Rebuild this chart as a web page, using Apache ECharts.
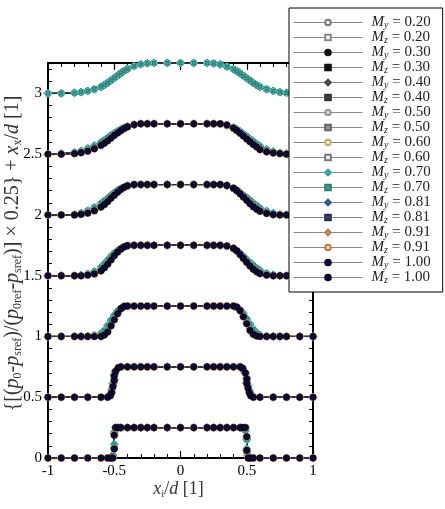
<!DOCTYPE html>
<html>
<head>
<meta charset="utf-8">
<script src="https://cdn.jsdelivr.net/npm/echarts@6/dist/echarts.min.js"></script>
<style>
  html, body { margin: 0; padding: 0; background: #fff; }
  #chart { width: 445px; height: 509px; }
</style>
</head>
<body>
<div id="chart"></div>
<script>
// row offsets x_x/d
var offsets = [0, 0.5, 1, 1.5, 2, 2.5, 3];
var machs = ['0.20', '0.30', '0.40', '0.50', '0.60', '0.70', '0.81', '0.91', '1.00'];

// sample positions x_i/d (rows 0 and 0.5 use the fine grid near the edges)
var xSharp = [-1, -0.9, -0.8, -0.7, -0.6, -0.55, -0.53, -0.52, -0.51, -0.5, -0.5, -0.49, -0.47, -0.45, -0.4, -0.35, -0.3, -0.25, -0.2, -0.1,
  0, 0.1, 0.2, 0.25, 0.3, 0.35, 0.4, 0.45, 0.47, 0.49, 0.5, 0.5, 0.51, 0.52, 0.53, 0.55, 0.6, 0.7, 0.8, 0.9, 1];
var xWide = [-1, -0.9, -0.8, -0.75, -0.7, -0.65, -0.6, -0.575, -0.55, -0.525, -0.5, -0.475, -0.45, -0.425, -0.4, -0.35, -0.3, -0.25, -0.2, -0.1,
  0, 0.1, 0.2, 0.25, 0.3, 0.35, 0.4, 0.425, 0.45, 0.475, 0.5, 0.525, 0.55, 0.575, 0.6, 0.65, 0.7, 0.75, 0.8, 0.9, 1];

// normalised pressure (p0-psref)/(p0ref-psref), one list per row
// low Mach (0.20 - 0.50)
var pLow = [
  [0,0,0,0,0,0,0,0,0.05,0.35,0.8, 1,1,1,1,1,1,1,1,1,1,1,1,1,1,1,1,1,1,1, 0.65,0.2,0.03,0,0,0,0,0,0,0,0],
  [0,0,0,0,0,0,0.07,0.2,0.4,0.58,0.72,0.86,0.96, 1,1,1,1,1,1,1,1,1,1,1,1,1,1,1, 0.93,0.8,0.62,0.48,0.33,0.18,0.07,0,0,0,0,0,0],
  [0,0,0,0,0,0,0.03,0.09,0.21,0.4,0.58,0.76,0.9,0.98, 1,1,1,1,1,1,1,1,1,1,1,1,1, 0.96,0.84,0.66,0.46,0.26,0.12,0.04,0.01,0,0,0,0,0,0],
  [0,0,0,0,0.03,0.08,0.19,0.29,0.41,0.54,0.67,0.78,0.87,0.94,0.98, 1,1,1,1,1,1,1,1,1,1, 0.97,0.88,0.8,0.69,0.57,0.45,0.34,0.24,0.16,0.09,0.03,0,0,0,0,0],
  [0,0,0,0.03,0.08,0.16,0.28,0.36,0.46,0.56,0.66,0.75,0.83,0.9,0.95,0.99, 1,1,1,1,1,1,1,1,1, 0.96,0.86,0.78,0.69,0.59,0.49,0.39,0.3,0.22,0.15,0.07,0.02,0,0,0,0],
  [0,0,0.03,0.06,0.12,0.2,0.3,0.37,0.45,0.54,0.62,0.7,0.77,0.84,0.89,0.96, 1,1,1,1,1,1,1,1,1, 0.94,0.85,0.77,0.68,0.6,0.5,0.42,0.33,0.26,0.18,0.1,0.05,0.02,0,0,0],
  [0,0,0.02,0.04,0.08,0.13,0.21,0.27,0.34,0.42,0.5,0.58,0.66,0.74,0.8,0.9,0.96,0.99, 1,1,1,1,1, 0.99,0.96,0.89,0.8,0.74,0.66,0.58,0.5,0.42,0.34,0.27,0.21,0.13,0.08,0.04,0.02,0,0]
];
// Mach 0.60 - 0.70
var pMid = [
  [0,0,0,0,0,0,0,0.02,0.1,0.45,0.85, 1,1,1,1,1,1,1,1,1,1,1,1,1,1,1,1,1, 0.97,0.9,0.6,0.3,0.08,0.02,0,0,0,0,0,0,0],
  [0,0,0,0,0,0.02,0.1,0.25,0.45,0.6,0.75,0.88,0.95, 1,1,1,1,1,1,1,1,1,1,1,1,1,1, 0.98,0.9,0.78,0.65,0.5,0.38,0.22,0.1,0.02,0,0,0,0,0],
  [0,0,0,0,0.01,0.04,0.1,0.2,0.36,0.54,0.7,0.84,0.93,0.98, 1,1,1,1,1,1,1,1,1,1,1,1, 0.99,0.96,0.88,0.75,0.58,0.4,0.24,0.12,0.05,0.01,0,0,0,0,0],
  [0,0,0,0.02,0.06,0.14,0.28,0.39,0.51,0.63,0.74,0.83,0.9,0.95,0.98,1, 1,1,1,1,1,1,1,1, 0.99,0.97,0.9,0.83,0.74,0.64,0.53,0.43,0.34,0.25,0.17,0.08,0.03,0,0,0,0],
  [0,0,0.02,0.06,0.14,0.25,0.38,0.46,0.55,0.64,0.73,0.81,0.87,0.92,0.96,0.99, 1,1,1,1,1,1,1,1, 0.99,0.96,0.88,0.82,0.74,0.65,0.57,0.48,0.39,0.31,0.23,0.13,0.06,0.02,0,0,0],
  [0,0.02,0.06,0.11,0.19,0.28,0.39,0.46,0.54,0.62,0.69,0.76,0.82,0.87,0.92,0.97,1, 1,1,1,1,1,1,1, 0.99,0.95,0.88,0.82,0.75,0.67,0.59,0.5,0.42,0.34,0.27,0.16,0.09,0.04,0.02,0,0],
  [0,0,0.02,0.04,0.08,0.14,0.22,0.28,0.35,0.43,0.51,0.59,0.67,0.74,0.81,0.9,0.96,0.99, 1,1,1,1,1, 0.98,0.95,0.88,0.79,0.73,0.66,0.58,0.5,0.43,0.35,0.28,0.22,0.14,0.08,0.04,0.02,0,0]
];
// Mach 0.81 - 1.00 (no row at x_x/d = 3)
var pHigh = [
  [0,0,0,0,0,0,0,0,0,0.3,0.75, 1,1,1,1,1,1,1,1,1,1,1,1,1,1,1,1,1,1,1, 0.7,0.25,0,0,0,0,0,0,0,0,0],
  [0,0,0,0,0,0,0.05,0.15,0.35,0.55,0.7,0.85,0.97, 1,1,1,1,1,1,1,1,1,1,1,1,1,1,1, 0.95,0.8,0.6,0.45,0.3,0.15,0.05,0,0,0,0,0,0],
  [0,0,0,0,0,0,0,0.05,0.15,0.35,0.55,0.75,0.92,0.99, 1,1,1,1,1,1,1,1,1,1,1,1,1, 0.97,0.85,0.65,0.42,0.2,0.07,0.02,0,0,0,0,0,0,0],
  [0,0,0,0,0.02,0.06,0.16,0.26,0.38,0.52,0.66,0.78,0.88,0.95,0.99, 1,1,1,1,1,1,1,1,1,1, 0.98,0.9,0.82,0.7,0.57,0.44,0.32,0.21,0.13,0.07,0.02,0,0,0,0,0],
  [0,0,0,0.02,0.06,0.14,0.26,0.34,0.44,0.55,0.65,0.75,0.84,0.91,0.96, 1,1,1,1,1,1,1,1,1,1, 0.97,0.88,0.8,0.7,0.59,0.48,0.37,0.27,0.19,0.12,0.05,0.01,0,0,0,0],
  [0,0,0.02,0.05,0.1,0.18,0.29,0.36,0.44,0.53,0.62,0.7,0.78,0.85,0.9,0.97, 1,1,1,1,1,1,1,1,1, 0.96,0.86,0.78,0.69,0.6,0.5,0.41,0.32,0.24,0.15,0.08,0.04,0.02,0,0,0],
  null
];

var serif = '"Liberation Serif", "DejaVu Serif", serif';

// marker look for each legend entry, in legend order (My, Mz for each Mach)
var markers = [
  { symbol: 'circle',  size: 6, fill: '#ffffff', border: '#777777' },
  { symbol: 'rect',    size: 4, fill: '#ffffff', border: '#888888' },
  { symbol: 'circle',  size: 6, fill: '#111111', border: '#111111' },
  { symbol: 'rect',    size: 3, fill: '#111111', border: '#111111' },
  { symbol: 'diamond', size: 7, fill: '#555555', border: '#444444' },
  { symbol: 'rect',    size: 4, fill: '#444444', border: '#333333' },
  { symbol: 'circle',  size: 6, fill: '#cfcfcf', border: '#999999' },
  { symbol: 'rect',    size: 4, fill: '#9a9a9a', border: '#666666' },
  { symbol: 'circle',  size: 6, fill: '#f4f0cc', border: '#b8b070' },
  { symbol: 'rect',    size: 4, fill: '#ffffff', border: '#777777' },
  { symbol: 'diamond', size: 8, fill: '#4ccaca', border: '#2a9c9c' },
  { symbol: 'rect',    size: 3, fill: '#4a9a8a', border: '#2f7a6c' },
  { symbol: 'diamond', size: 7, fill: '#2f72b0', border: '#245a8c' },
  { symbol: 'rect',    size: 4, fill: '#34406a', border: '#262f50' },
  { symbol: 'diamond', size: 7, fill: '#d4a474', border: '#b07e4c' },
  { symbol: 'circle',  size: 7, fill: '#f2dab4', border: '#c07a40' },
  { symbol: 'circle',  size: 5, fill: '#101048', border: '#0a0a30' },
  { symbol: 'circle',  size: 6, fill: '#0b0b38', border: '#060620' }
];

function profileFor(m) {
    if (m < 4) return pLow;
    if (m < 6) return pMid;
    return pHigh;
}

function buildData(profile) {
    var out = [];
    for (var r = 0; r < offsets.length; r++) {
        var xs = r < 2 ? xSharp : xWide;
        var p = profile[r];
        if (p) {
            for (var i = 0; i < xs.length; i++) {
                out.push([xs[i], offsets[r] + p[i] * 0.25]);
            }
        }
        out.push(['-', '-']);
    }
    return out;
}

var series = [];
for (var m = 0; m < machs.length; m++) {
    ['y', 'z'].forEach(function (dir, k) {
        var mk = markers[m * 2 + k];
        series.push({
            name: 'M_' + dir + ' = ' + machs[m],
            type: 'line',
            data: buildData(profileFor(m)),
            symbol: mk.symbol,
            symbolSize: mk.size,
            clip: false,
            connectNulls: false,
            lineStyle: { color: '#333', width: 1 },
            itemStyle: { color: mk.fill, borderColor: mk.border, borderWidth: 1 }
        });
    });
}

var tickLine = { color: '#000', width: 1.2 };
var frame = { color: '#000', width: 2 };

function xAx(pos, labels) {
    return {
        type: 'value', position: pos, min: -1, max: 1, interval: 0.5,
        axisLine: { onZero: false, lineStyle: frame },
        axisTick: { inside: true, length: 7, lineStyle: tickLine },
        minorTick: { show: true, splitNumber: 5, length: 4, lineStyle: { color: '#000', width: 1 } },
        splitLine: { show: false },
        axisLabel: { show: labels, margin: 6, color: '#000', fontFamily: serif, fontSize: 15 }
    };
}
function yAx(pos, major, labels) {
    return {
        type: 'value', position: pos, min: 0, max: 3.25, interval: major ? 0.5 : 0.1,
        axisLine: { show: major, onZero: false, lineStyle: frame },
        axisTick: { inside: true, length: major ? 7 : 4, lineStyle: major ? tickLine : { color: '#000', width: 1 } },
        splitLine: { show: false },
        axisLabel: { show: labels, showMaxLabel: false, margin: 6, color: '#000', fontFamily: serif, fontSize: 15 }
    };
}

var xBottom = xAx('bottom', true);
xBottom.name = '{i|x}{s|i}{b|/}{i|d}{b| [1]}';
xBottom.nameLocation = 'middle';
xBottom.nameGap = 20;
xBottom.nameMoveOverlap = false;
xBottom.nameTextStyle = {
    color: '#333', fontFamily: serif, fontSize: 18, padding: [0, 4, 0, 0],
    rich: {
        b: { fontFamily: serif, fontSize: 18, lineHeight: 22, color: '#333' },
        i: { fontFamily: serif, fontSize: 18, lineHeight: 22, fontStyle: 'italic', color: '#333' },
        s: { fontFamily: serif, fontSize: 11, lineHeight: 11, verticalAlign: 'bottom', color: '#333' }
    }
};

var yLeft = yAx('left', true, true);
yLeft.name = '{b|{[(}{i|p}{s|0}{b|-}{i|p}{s|sref}{b|)/(}{i|p}{s|0ref}{b|-}{i|p}{s|sref}{b|)] × 0.25}} + {i|x}{s|x}{b|/}{i|d}{b| [1]}';
yLeft.nameLocation = 'middle';
yLeft.nameGap = 24;
yLeft.nameMoveOverlap = false;
yLeft.nameTextStyle = {
    color: '#333', fontFamily: serif, fontSize: 20, padding: [0, 0, 0, 14],
    rich: {
        b: { fontFamily: serif, fontSize: 20, lineHeight: 22, color: '#333' },
        i: { fontFamily: serif, fontSize: 20, lineHeight: 22, fontStyle: 'italic', color: '#333' },
        s: { fontFamily: serif, fontSize: 12, lineHeight: 11, verticalAlign: 'bottom', color: '#333' }
    }
};

var chart = echarts.init(document.getElementById('chart'), null, { renderer: 'canvas' });
chart.setOption({
    animation: false,
    backgroundColor: '#fff',
    grid: { left: 48, right: 132, top: 63, bottom: 51, outerBoundsMode: 'none', containLabel: false },
    xAxis: [xBottom, xAx('top', false)],
    yAxis: [yLeft, yAx('left', false, false), yAx('right', true, false), yAx('right', false, false)],
    legend: {
        left: 289, top: 8, orient: 'vertical', z: 10,
        backgroundColor: '#fff', borderColor: '#000', borderWidth: 1,
        padding: [7, 12, 7, 4],
        itemWidth: 69, itemHeight: 7, itemGap: 0,
        selectedMode: false,
        lineStyle: { color: '#888', width: 1 },
        formatter: function (name) {
            var dir = name.charAt(2);
            return '{sp|}{m|M}{s|' + dir + '}{t|' + name.slice(3) + '}';
        },
        textStyle: {
            fontFamily: serif, fontSize: 15, color: '#222',
            rich: {
                sp: { width: 4, lineHeight: 15 },
                m: { fontFamily: serif, fontSize: 15, lineHeight: 15, fontStyle: 'italic', color: '#222' },
                s: { fontFamily: serif, fontSize: 10, lineHeight: 9, fontStyle: 'italic', verticalAlign: 'bottom', color: '#222' },
                t: { fontFamily: serif, fontSize: 15, lineHeight: 15, color: '#222' }
            }
        }
    },
    series: series
});
</script>
</body>
</html>
